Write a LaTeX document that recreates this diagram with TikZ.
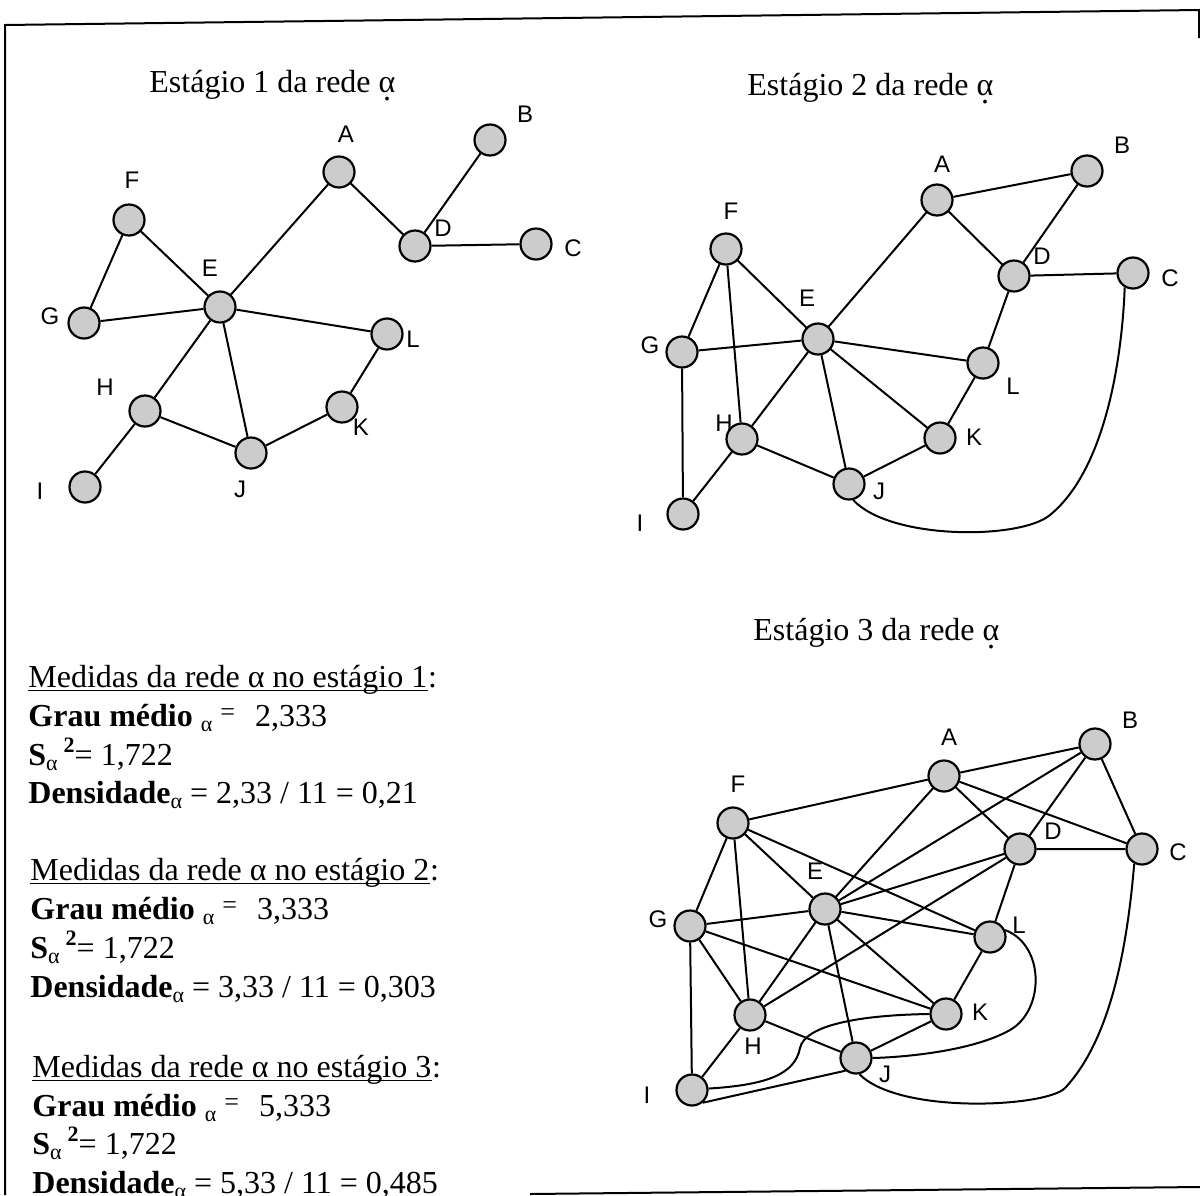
\documentclass[tikz,border=0pt]{standalone}
\usepackage{fontspec}
\setmainfont{Liberation Serif}
\newfontfamily\lblfont{Liberation Sans}
\newcommand\dalpha{\ooalign{α\cr\hidewidth\raisebox{-0.6ex}{.}\hidewidth\cr}}
\newcommand\subal{\raisebox{-0.35ex}{\fontsize{11}{11}\selectfont α}}
\newcommand\supeq{\raisebox{0.4ex}{\fontsize{13}{13}\selectfont =}}
\newcommand\suptwo{\raisebox{0.85ex}{\fontsize{11}{11}\selectfont\bfseries 2}}
\tikzset{
  vtx/.style={circle, draw, line width=1.1pt, fill=black!20, minimum size=15.5pt, inner sep=0pt},
  lbl/.style={font=\fontsize{12}{14}\lblfont, inner sep=0pt},
  link/.style={line width=1pt},
  ttl/.style={font=\fontsize{16}{19}\selectfont, inner sep=0pt, anchor=base west},
  txt/.style={font=\fontsize{16}{19}\selectfont, inner sep=0pt, anchor=base west},
  uline/.style={line width=0.6pt},
  frame/.style={line width=1pt}
}
\begin{document}
\begin{tikzpicture}[x=0.5pt,y=-0.5pt]
\useasboundingbox (0,0) rectangle (1200,1195);
% frame
\coordinate (tl) at (5,25);
\coordinate (tr) at (1199,10);
\coordinate (bl) at (5,1195);
\coordinate (bm) at (530,1194);
\coordinate (br) at (1200,1187);
\coordinate (rr) at (1199,38);
\draw[frame] (bl) -- (tl) -- (tr) -- (rr);
\draw[frame] (bm) -- (br);

% ---------------- Stage 1 ----------------
\node[ttl] (t1) at (149,92) {Estágio 1 da rede \dalpha};
\node[vtx] (a1) at (339,172) {};
\node[vtx] (b1) at (490,140) {};
\node[vtx] (c1) at (536,244) {};
\node[vtx] (d1) at (415,246) {};
\node[vtx] (e1) at (220,307) {};
\node[vtx] (f1) at (129,220) {};
\node[vtx] (g1) at (84,323) {};
\node[vtx] (h1) at (145,411) {};
\node[vtx] (i1) at (85,487) {};
\node[vtx] (j1) at (251,453) {};
\node[vtx] (k1) at (342,407) {};
\node[vtx] (l1) at (387,334) {};
\node[lbl] (la1) at (346,134) {A};
\node[lbl] (lb1) at (525,114) {B};
\node[lbl] (lc1) at (573,248) {C};
\node[lbl] (ld1) at (443,228) {D};
\node[lbl] (le1) at (210,268) {E};
\node[lbl] (lf1) at (132,180) {F};
\node[lbl] (lg1) at (50,316) {G};
\node[lbl] (lh1) at (105,387) {H};
\node[lbl] (li1) at (40,491) {I};
\node[lbl] (lj1) at (240,489) {J};
\node[lbl] (lk1) at (361,427) {K};
\node[lbl] (ll1) at (413,339) {L};
\draw[link] (f1) -- (g1) (f1) -- (e1) (g1) -- (e1) (e1) -- (a1) (a1) -- (d1)
  (d1) -- (b1) (d1) -- (c1) (e1) -- (l1) (l1) -- (k1) (k1) -- (j1) (e1) -- (j1)
  (e1) -- (h1) (h1) -- (j1) (h1) -- (i1);

% ---------------- Stage 2 ----------------
\node[ttl] (t2) at (747,95) {Estágio 2 da rede \dalpha};
\node[vtx] (a2) at (937,200) {};
\node[vtx] (b2) at (1087,171) {};
\node[vtx] (c2) at (1133,273) {};
\node[vtx] (d2) at (1014,276) {};
\node[vtx] (e2) at (818,339) {};
\node[vtx] (f2) at (726,249) {};
\node[vtx] (g2) at (682,352) {};
\node[vtx] (h2) at (742,439) {};
\node[vtx] (i2) at (683,514) {};
\node[vtx] (j2) at (849,484) {};
\node[vtx] (k2) at (940,438) {};
\node[vtx] (l2) at (983,363) {};
\node[lbl] (la2) at (942,164) {A};
\node[lbl] (lb2) at (1122,145) {B};
\node[lbl] (lc2) at (1170,278) {C};
\node[lbl] (ld2) at (1042,256) {D};
\node[lbl] (le2) at (807,298) {E};
\node[lbl] (lf2) at (731,211) {F};
\node[lbl] (lg2) at (650,345) {G};
\node[lbl] (lh2) at (724,423) {H};
\node[lbl] (li2) at (640,523) {I};
\node[lbl] (lj2) at (879,491) {J};
\node[lbl] (lk2) at (974,437) {K};
\node[lbl] (ll2) at (1013,386) {L};
\draw[link] (a2) -- (b2) (a2) -- (d2) (b2) -- (d2) (d2) -- (c2) (d2) -- (l2)
  (e2) -- (a2) (f2) -- (g2) (f2) -- (e2) (f2) -- (h2) (g2) -- (e2) (g2) -- (i2)
  (e2) -- (l2) (e2) -- (k2) (e2) -- (j2) (e2) -- (h2) (h2) -- (j2) (h2) -- (i2)
  (j2) -- (k2) (k2) -- (l2);
\draw[link] (c2.-120) .. controls (1122,360) and (1105,470) .. (1050,515)
  .. controls (1020,540) and (890,540) .. (j2.-75);

% ---------------- Stage 3 ----------------
\node[ttl] (t3) at (753,640) {Estágio 3 da rede \dalpha};
\node[vtx] (a3) at (944,776) {};
\node[vtx] (b3) at (1095,744) {};
\node[vtx] (c3) at (1142,849) {};
\node[vtx] (d3) at (1020,849) {};
\node[vtx] (e3) at (825,909) {};
\node[vtx] (f3) at (733,823) {};
\node[vtx] (g3) at (690,926) {};
\node[vtx] (h3) at (750,1015) {};
\node[vtx] (i3) at (692,1090) {};
\node[vtx] (j3) at (856,1058) {};
\node[vtx] (k3) at (946,1014) {};
\node[vtx] (l3) at (990,937) {};
\node[lbl] (la3) at (949,737) {A};
\node[lbl] (lb3) at (1130,720) {B};
\node[lbl] (lc3) at (1178,852) {C};
\node[lbl] (ld3) at (1053,831) {D};
\node[lbl] (le3) at (815,871) {E};
\node[lbl] (lf3) at (738,784) {F};
\node[lbl] (lg3) at (658,919) {G};
\node[lbl] (lh3) at (753,1046) {H};
\node[lbl] (li3) at (647,1095) {I};
\node[lbl] (lj3) at (885,1074) {J};
\node[lbl] (lk3) at (980,1012) {K};
\node[lbl] (ll3) at (1019,925) {L};
\draw[link] (f3) -- (a3) (a3) -- (b3) (a3) -- (e3) (a3) -- (d3) (a3) -- (c3)
  (b3) -- (c3) (b3) -- (d3) (b3) -- (e3) (d3) -- (c3) (d3) -- (e3) (d3) -- (h3)
  (d3) -- (l3) (f3) -- (g3) (f3) -- (e3) (f3) -- (h3) (f3) -- (l3) (g3) -- (e3)
  (g3) -- (k3) (g3) -- (h3) (g3) -- (i3) (e3) -- (l3) (e3) -- (k3) (e3) -- (j3)
  (e3) -- (h3) (h3) -- (j3) (h3) -- (i3) (k3) -- (j3) (k3) -- (l3);
\draw[link] (i3.-50) -- (j3.230);
\draw[link] (l3.25) .. controls (1045,945) and (1045,1010) .. (1010,1030)
  .. controls (975,1050) and (910,1057) .. (j3.0);
\draw[link] (c3.-118) .. controls (1127,950) and (1110,1040) .. (1065,1088)
  .. controls (1047,1107) and (900,1115) .. (j3.-78);
\draw[link] (i3.5) .. controls (765,1085) and (795,1075) .. (800,1048)
  .. controls (805,1025) and (860,1015) .. (k3.180);

% ---------------- Measures ----------------
\node[txt] (m1) at (28,687) {Medidas da rede α no estágio 1};
\node[txt] (m1c) at (m1.base east) {:};
\draw[uline] ([yshift=-1.8pt]m1.base west) -- ([yshift=-1.8pt]m1.base east);
\node[txt] (gm1) at (28,726) {\textbf{Grau médio} \subal\kern4pt\supeq\hspace{10pt}2,333};
\node[txt] (sv1) at (28,765) {\textbf{S}\subal\kern3pt\suptwo= 1,722};
\node[txt] (de1) at (28,803) {\textbf{Densidade}\subal\ = 2,33 / 11 = 0,21};

\node[txt] (m2) at (30,880) {Medidas da rede α no estágio 2};
\node[txt] (m2c) at (m2.base east) {:};
\draw[uline] ([yshift=-1.8pt]m2.base west) -- ([yshift=-1.8pt]m2.base east);
\node[txt] (gm2) at (30,919) {\textbf{Grau médio} \subal\kern4pt\supeq\hspace{10pt}3,333};
\node[txt] (sv2) at (30,958) {\textbf{S}\subal\kern3pt\suptwo= 1,722};
\node[txt] (de2) at (30,997) {\textbf{Densidade}\subal\ = 3,33 / 11 = 0,303};

\node[txt] (m3) at (32,1077) {Medidas da rede α no estágio 3};
\node[txt] (m3c) at (m3.base east) {:};
\draw[uline] ([yshift=-1.8pt]m3.base west) -- ([yshift=-1.8pt]m3.base east);
\node[txt] (gm3) at (32,1116) {\textbf{Grau médio} \subal\kern4pt\supeq\hspace{10pt}5,333};
\node[txt] (sv3) at (32,1154) {\textbf{S}\subal\kern3pt\suptwo= 1,722};
\node[txt] (de3) at (32,1193) {\textbf{Densidade}\subal\ = 5,33 / 11 = 0,485};
\end{tikzpicture}
\end{document}
